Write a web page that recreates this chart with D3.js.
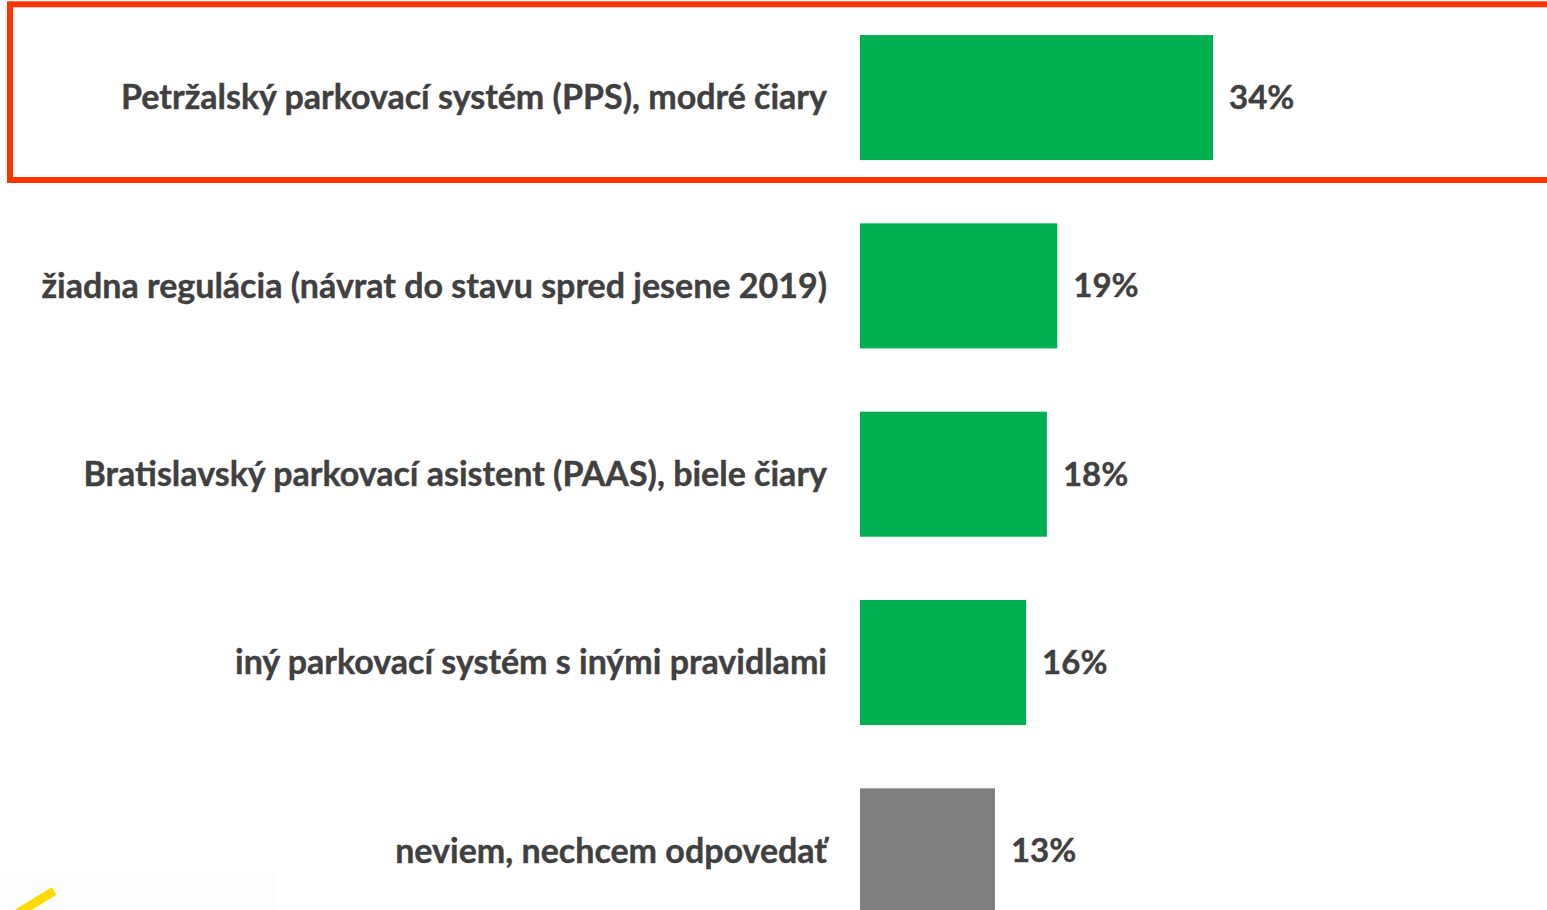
<!DOCTYPE html>
<html>
<head>
<meta charset="utf-8">
<script src="https://cdn.jsdelivr.net/npm/d3@7"></script>
<style>
  html, body { margin: 0; padding: 0; background: #fff; overflow: hidden; }
</style>
</head>
<body>
<script>
// Data
const categories = [
    "Petržalský parkovací systém (PPS), modré čiary",
    "žiadna regulácia (návrat do stavu spred jesene 2019)",
    "Bratislavský parkovací asistent (PAAS), biele čiary",
    "iný parkovací systém s inými pravidlami",
    "neviem, nechcem odpovedať"
];
const values = [34, 19, 18, 16, 13];
const barColors = ["#00B050", "#00B050", "#00B050", "#00B050", "#7F7F7F"];

const width = 1547, height = 910;
const svg = d3.select("body").append("svg")
    .attr("width", width)
    .attr("height", height);

const x = d3.scaleLinear().domain([0, 34]).range([860, 1213]);
const y = d3.scaleBand()
    .domain(categories)
    .range([3.4, 945])
    .paddingInner(0.336)
    .paddingOuter(0.168);

const data = categories.map((c, i) => ({ cat: c, value: values[i], color: barColors[i] }));

// faint bottom-left area and yellow stroke
svg.append("rect")
    .attr("x", 0).attr("y", 870)
    .attr("width", 275).attr("height", 40)
    .attr("fill", "#fdfdfd");
svg.append("line")
    .attr("x1", 18).attr("y1", 913)
    .attr("x2", 54).attr("y2", 891)
    .attr("stroke", "#FFDA00")
    .attr("stroke-width", 9);

// bars
svg.selectAll("rect.bar")
    .data(data)
    .enter()
    .append("rect")
    .attr("class", "bar")
    .attr("x", x(0))
    .attr("y", d => y(d.cat))
    .attr("width", d => x(d.value) - x(0))
    .attr("height", y.bandwidth())
    .attr("fill", d => d.color);

const font = "Lato, 'Open Sans', sans-serif";

// category labels
svg.selectAll("text.cat")
    .data(data)
    .enter()
    .append("text")
    .attr("class", "cat")
    .attr("x", 827)
    .attr("y", d => y(d.cat) + y.bandwidth() / 2)
    .attr("dy", "0.35em")
    .attr("text-anchor", "end")
    .attr("font-family", font)
    .attr("font-weight", "bold")
    .attr("font-size", 34)
    .attr("fill", "#404040")
    .attr("stroke", "#404040")
    .attr("stroke-width", 0.4)
    .text(d => d.cat);

// value labels
svg.selectAll("text.val")
    .data(data)
    .enter()
    .append("text")
    .attr("class", "val")
    .attr("x", d => x(d.value) + 16)
    .attr("y", d => y(d.cat) + y.bandwidth() / 2)
    .attr("dy", "0.35em")
    .attr("font-family", font)
    .attr("font-weight", "bold")
    .attr("font-size", 33)
    .attr("fill", "#404040")
    .attr("stroke", "#404040")
    .attr("stroke-width", 0.4)
    .text(d => d.value + "%");

// highlight box around first row
svg.append("rect")
    .attr("x", 10)
    .attr("y", 4.3)
    .attr("width", width)
    .attr("height", 175.7)
    .attr("fill", "none")
    .attr("stroke", "#FF3300")
    .attr("stroke-width", 6);
</script>
</body>
</html>
